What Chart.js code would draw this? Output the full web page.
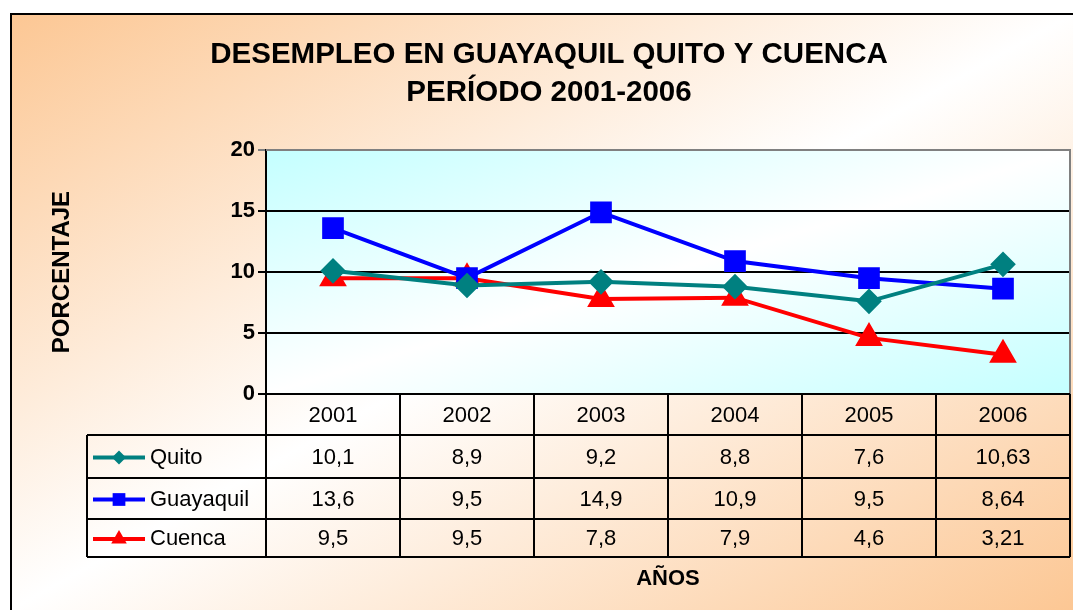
<!DOCTYPE html>
<html>
<head>
<meta charset="utf-8">
<title>Desempleo Guayaquil Quito Cuenca</title>
<script src="https://cdn.jsdelivr.net/npm/chart.js@4.4.1/dist/chart.umd.min.js"></script>
<style>
    html, body { margin: 0; padding: 0; background: #ffffff; }
    #wrap { width: 1073px; height: 610px; }
</style>
</head>
<body>
<div id="wrap"><canvas id="grafico" width="1073" height="610"></canvas></div>
<script>
// Datos del gráfico
const anios = ['2001', '2002', '2003', '2004', '2005', '2006'];
const quito = [10.1, 8.9, 9.2, 8.8, 7.6, 10.63];
const guayaquil = [13.6, 9.5, 14.9, 10.9, 9.5, 8.64];
const cuenca = [9.5, 9.5, 7.8, 7.9, 4.6, 3.21];
const ticksY = [0, 5, 10, 15, 20];

const FUENTE = "'Liberation Sans', Arial, sans-serif";
Chart.defaults.font.family = FUENTE;
Chart.defaults.color = '#000';

// relleno en diagonal: color en las esquinas, blanco en el centro
function rellenoDiagonal(ctx, x, y, w, h, color) {
    ctx.save();
    ctx.translate(x, y);
    ctx.scale(w, h);
    const g = ctx.createLinearGradient(0, 0, 1, 1);
    g.addColorStop(0, color);
    g.addColorStop(0.5, '#ffffff');
    g.addColorStop(1, color);
    ctx.fillStyle = g;
    ctx.fillRect(0, 0, 1, 1);
    ctx.restore();
}

const fondoPlugin = {
    id: 'fondo',
    beforeDraw(chart) {
        const ctx = chart.ctx;
        const a = chart.chartArea;
        ctx.save();
        ctx.fillStyle = '#ffffff';
        ctx.fillRect(0, 0, chart.width, chart.height);
        rellenoDiagonal(ctx, 11, 14, chart.width - 11, chart.height - 14, '#fcc794');
        rellenoDiagonal(ctx, a.left, a.top, a.right - a.left, a.bottom - a.top, '#c4ffff');
        // marco exterior
        ctx.strokeStyle = '#000';
        ctx.lineWidth = 2;
        ctx.beginPath();
        ctx.moveTo(11, chart.height);
        ctx.lineTo(11, 14);
        ctx.lineTo(chart.width, 14);
        ctx.stroke();
        ctx.restore();
    }
};

// tabla de datos bajo el eje X
const tablaPlugin = {
    id: 'tabla',
    afterDraw(chart) {
        const ctx = chart.ctx;
        const a = chart.chartArea;
        const xs = chart.scales.x;
        const n = anios.length;
        const ancho = (a.right - a.left) / n;
        const filaY = [a.bottom, a.bottom + 41, a.bottom + 84, a.bottom + 125, a.bottom + 163];
        const izq = 87;

        ctx.save();
        // borde gris del área de trazado
        ctx.strokeStyle = '#808080';
        ctx.lineWidth = 2;
        ctx.beginPath();
        ctx.moveTo(a.left, a.top);
        ctx.lineTo(a.right, a.top);
        ctx.lineTo(a.right, a.bottom);
        ctx.stroke();

        ctx.strokeStyle = '#000';
        ctx.lineWidth = 2;
        ctx.beginPath();
        for (let i = 0; i <= n; i++) {
            const x = Math.round(a.left + i * ancho);
            ctx.moveTo(x, filaY[0]);
            ctx.lineTo(x, filaY[4]);
        }
        ctx.moveTo(izq, filaY[1]);
        ctx.lineTo(izq, filaY[4]);
        for (let r = 1; r <= 4; r++) {
            ctx.moveTo(izq, filaY[r]);
            ctx.lineTo(a.right, filaY[r]);
        }
        ctx.moveTo(a.left - 8, filaY[0]);
        ctx.lineTo(a.right, filaY[0]);
        ctx.stroke();

        ctx.fillStyle = '#000';
        ctx.font = '22px ' + FUENTE;
        ctx.textAlign = 'center';
        ctx.textBaseline = 'middle';
        anios.forEach((anio, i) => {
            ctx.fillText(anio, xs.getPixelForValue(i), (filaY[0] + filaY[1]) / 2 + 1);
        });

        chart.data.datasets.forEach((ds, r) => {
            const yc = (filaY[r + 1] + filaY[r + 2]) / 2 + 1;
            ds.data.forEach((v, i) => {
                ctx.fillText(String(v).replace('.', ','), xs.getPixelForValue(i), yc);
            });
            // simbolo de la leyenda
            ctx.strokeStyle = ds.borderColor;
            ctx.lineWidth = 4;
            ctx.beginPath();
            ctx.moveTo(93, yc);
            ctx.lineTo(145, yc);
            ctx.stroke();
            ctx.fillStyle = ds.borderColor;
            Chart.helpers.drawPoint(ctx, {
                pointStyle: ds.pointStyle,
                radius: ds.leyendaRadio,
                rotation: 0,
                borderWidth: 0
            }, 119, yc);
            ctx.fillStyle = '#000';
            ctx.textAlign = 'left';
            ctx.fillText(ds.label, 150, yc);
            ctx.textAlign = 'center';
        });

        ctx.font = 'bold 22px ' + FUENTE;
        ctx.fillText('AÑOS', (a.left + a.right) / 2, 579);
        ctx.restore();
    }
};

const ctx = document.getElementById('grafico').getContext('2d');
const grafico = new Chart(ctx, {
    type: 'line',
    data: {
        labels: anios,
        datasets: [
            {
                label: 'Quito',
                data: quito,
                borderColor: '#008080',
                backgroundColor: '#008080',
                borderWidth: 4,
                pointStyle: 'rectRot',
                pointRadius: 10,
                leyendaRadio: 7
            },
            {
                label: 'Guayaquil',
                data: guayaquil,
                borderColor: '#0000ff',
                backgroundColor: '#0000ff',
                borderWidth: 4,
                pointStyle: 'rect',
                pointRadius: 12.5,
                leyendaRadio: 9
            },
            {
                label: 'Cuenca',
                data: cuenca,
                borderColor: '#ff0000',
                backgroundColor: '#ff0000',
                borderWidth: 4,
                pointStyle: 'triangle',
                pointRadius: 12,
                leyendaRadio: 9
            }
        ]
    },
    options: {
        responsive: false,
        animation: false,
        events: [],
        layout: {
            autoPadding: false,
            padding: { left: 28, right: 3, top: 0, bottom: 216 }
        },
        plugins: {
            legend: { display: false },
            tooltip: { enabled: false },
            title: {
                display: true,
                text: ['DESEMPLEO EN GUAYAQUIL QUITO Y CUENCA', 'PERÍODO 2001-2006'],
                color: '#000',
                font: { size: 29.5, weight: 'bold', lineHeight: 1.29 },
                padding: { top: 36, bottom: 38 }
            }
        },
        scales: {
            x: {
                type: 'category',
                offset: true,
                display: false
            },
            y: {
                min: 0,
                max: 20,
                afterBuildTicks(scale) {
                    scale.ticks = ticksY.map(v => ({ value: v }));
                },
                afterFit(scale) {
                    scale.width = 266 - 28;
                },
                ticks: {
                    color: '#000',
                    font: { size: 22, weight: 'bold' },
                    padding: 3
                },
                grid: {
                    color: ctx => (ctx.tick && ctx.tick.value === 20) ? '#808080' : '#000',
                    lineWidth: 2,
                    tickLength: 8
                },
                border: { display: true, color: '#000', width: 2 },
                title: {
                    display: true,
                    text: 'PORCENTAJE',
                    color: '#000',
                    font: { size: 24, weight: 'bold' },
                    padding: { top: 20, bottom: 0 }
                }
            }
        }
    },
    plugins: [fondoPlugin, tablaPlugin]
});
</script>
</body>
</html>
